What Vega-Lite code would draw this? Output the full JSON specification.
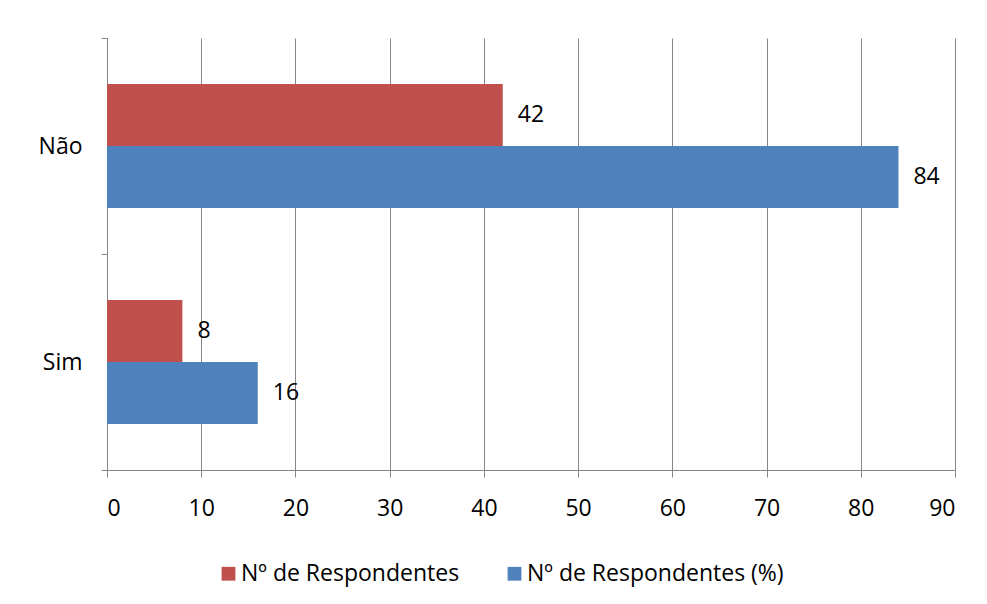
{
  "$schema": "https://vega.github.io/schema/vega-lite/v6.json",
  "autosize": "none",
  "width": 848,
  "height": 432,
  "padding": {"left": 107, "top": 38, "right": 32, "bottom": 134},
  "background": "white",
  "config": {
    "font": "Open Sans",
    "view": {"stroke": null},
    "axis": {"labelFont": "Open Sans", "labelFontSize": 23, "labelColor": "#000000", "domainColor": "#868686", "tickColor": "#868686", "gridColor": "#868686", "gridOpacity": 1}
  },
  "data": {"values": [
    {"cat": "Não", "series": "Nº de Respondentes", "value": 42},
    {"cat": "Não", "series": "Nº de Respondentes (%)", "value": 84},
    {"cat": "Sim", "series": "Nº de Respondentes", "value": 8},
    {"cat": "Sim", "series": "Nº de Respondentes (%)", "value": 16}
  ]},
  "encoding": {
    "y": {"field": "cat", "type": "nominal", "sort": ["Não", "Sim"],
      "scale": {"paddingInner": 0, "paddingOuter": 0},
      "axis": {"title": null, "tickBand": "extent", "tickSize": 6, "labelPadding": 19, "grid": false}},
    "yOffset": {"field": "series", "type": "nominal", "sort": ["Nº de Respondentes", "Nº de Respondentes (%)"],
      "scale": {"paddingInner": 0, "paddingOuter": 0.742}},
    "x": {"field": "value", "type": "quantitative",
      "scale": {"domain": [0, 90], "nice": false},
      "axis": {"title": null, "values": [0,10,20,30,40,50,60,70,80,90], "tickSize": 7, "labelPadding": 20, "grid": true}}
  },
  "layer": [
    {"mark": {"type": "bar"},
     "encoding": {"color": {"field": "series", "type": "nominal",
       "scale": {"domain": ["Nº de Respondentes", "Nº de Respondentes (%)"], "range": ["#C0504D", "#4F81BD"]},
       "legend": {"title": null, "orient": "none", "direction": "horizontal", "legendX": 110, "legendY": 524, "symbolType": "square", "symbolSize": 190, "symbolStrokeWidth": 0, "symbolOpacity": 1, "labelFontSize": 23, "labelFont": "Open Sans", "labelColor": "#000000", "labelLimit": 0, "columnPadding": 43, "labelOffset": 1}}}},
    {"mark": {"type": "text", "align": "left", "baseline": "middle", "dx": 15, "fontSize": 23, "font": "Open Sans", "color": "#000000"},
     "encoding": {"text": {"field": "value", "type": "quantitative"}}}
  ]
}
